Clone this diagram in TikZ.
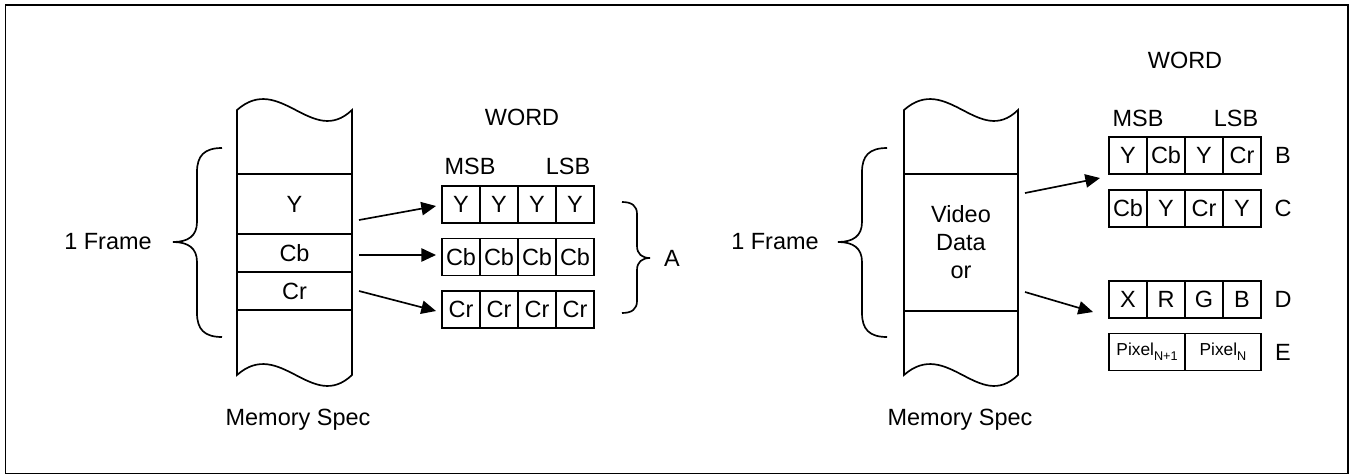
\documentclass[tikz,border=0pt]{standalone}
\usepackage{fontspec}
\setmainfont{Liberation Sans}
\usetikzlibrary{arrows.meta,positioning}

\begin{document}
\begin{tikzpicture}[
    x=0.75pt, y=-0.75pt,
    node distance=0pt,
    every node/.style={font=\fontsize{17.6}{21}\selectfont},
    line/.style={line width=1.25pt},
    cell/.style={draw, line width=1.25pt, inner sep=0pt, outer sep=0pt, minimum width=28.5pt, minimum height=27.75pt},
    wide/.style={cell, minimum width=57pt, font=\fontsize{13}{15}\selectfont},
    memcell/.style={draw, line width=1.25pt, inner sep=0pt, outer sep=0pt, minimum width=86.25pt, align=center},
    arr/.style={-{Triangle[length=11pt,width=10pt]}, line width=1.25pt},
    brace/.style={line width=1.25pt}
]
\useasboundingbox (0,0) rectangle (1351,475);
\draw[line width=1.4pt] (5.5,5) rectangle (1348,473.5);

% left memory column
\draw[line] (237,110) .. controls (280,72) and (312,148) .. (352,110) -- (352,375)
    .. controls (312,413) and (280,337) .. (237,375) -- cycle;
\node[memcell, minimum height=45pt] (memY) at (294.5,204) {Y};
\node[memcell, minimum height=28.5pt] (memCb) at (294.5,253) {Cb};
\node[memcell, minimum height=28.5pt] (memCr) at (294.5,291) {Cr};
\node (specL) at (298,420) {Memory Spec};

\draw[brace] (222,148) .. controls (204,148) and (197,156) .. (197,172) -- (197,222)
    .. controls (197,236) and (188,242) .. (173,242) .. controls (188,242) and (197,248) .. (197,262)
    -- (197,313) .. controls (197,329) and (204,337) .. (222,337);
\node (frameL) at (108,242) {1 Frame};

% left words
\node (wordL) at (522,117) {WORD};
\node (msbL) at (470,166) {MSB};
\node (lsbL) at (568,166) {LSB};
\node[cell] (y1) at (461,204.5) {Y};
\node[cell, right=of y1] (y2) {Y};
\node[cell, right=of y2] (y3) {Y};
\node[cell, right=of y3] (y4) {Y};
\node[cell] (cb1) at (461,257) {Cb};
\node[cell, right=of cb1] (cb2) {Cb};
\node[cell, right=of cb2] (cb3) {Cb};
\node[cell, right=of cb3] (cb4) {Cb};
\node[cell] (cr1) at (461,309.5) {Cr};
\node[cell, right=of cr1] (cr2) {Cr};
\node[cell, right=of cr2] (cr3) {Cr};
\node[cell, right=of cr3] (cr4) {Cr};

\draw[brace] (622,202) .. controls (632,202) and (637,206) .. (637,214) -- (637,246)
    .. controls (637,254) and (642,258) .. (650,258) .. controls (642,258) and (637,262) .. (637,270)
    -- (637,301) .. controls (637,309) and (632,313) .. (622,313);
\node (labA) at (672,258) {A};

\draw[arr] ([shift={(7,16)}]memY.east) -- ([shift={(-6,1.5)}]y1.west);
\draw[arr] ([shift={(7,2)}]memCb.east) -- ([shift={(-6,-2)}]cb1.west);
\draw[arr] ([shift={(7,0)}]memCr.east) -- ([shift={(-6,1.5)}]cr1.west);

% right memory column
\draw[line] (904,110) .. controls (947,72) and (979,148) .. (1018,110) -- (1018,375)
    .. controls (979,413) and (947,337) .. (904,375) -- cycle;
\node[memcell, minimum width=85.5pt, minimum height=102.75pt] (memV) at (961,242.5) {Video\\Data\\or};
\node (specR) at (960,420) {Memory Spec};

\draw[brace] (887,148) .. controls (869,148) and (862,156) .. (862,172) -- (862,222)
    .. controls (862,236) and (853,242) .. (838,242) .. controls (853,242) and (862,248) .. (862,262)
    -- (862,313) .. controls (862,329) and (869,337) .. (887,337);
\node (frameR) at (775,242) {1 Frame};

% right words
\node (wordR) at (1185,60) {WORD};
\node (msbR) at (1138,118) {MSB};
\node (lsbR) at (1236,118) {LSB};
\node[cell] (b1) at (1128,155.5) {Y};
\node[cell, right=of b1] (b2) {Cb};
\node[cell, right=of b2] (b3) {Y};
\node[cell, right=of b3] (b4) {Cr};
\node[cell] (c1) at (1128,208.5) {Cb};
\node[cell, right=of c1] (c2) {Y};
\node[cell, right=of c2] (c3) {Cr};
\node[cell, right=of c3] (c4) {Y};
\node[cell] (d1) at (1128,299.5) {X};
\node[cell, right=of d1] (d2) {R};
\node[cell, right=of d2] (d3) {G};
\node[cell, right=of d3] (d4) {B};
\node[wide] (e1) at (1147,352) {Pixel\raisebox{-4pt}{\fontsize{9.5}{10}\selectfont N+1}};
\node[wide, right=of e1] (e2) {Pixel\raisebox{-4pt}{\fontsize{9.5}{10}\selectfont N}};
\node (labB) at (1283,155.5) {B};
\node (labC) at (1283,208.5) {C};
\node (labD) at (1283,299.5) {D};
\node (labE) at (1283,352) {E};

\draw[arr] ([shift={(7,-49.5)}]memV.east) -- ([shift={(-9,22.5)}]b1.west);
\draw[arr] ([shift={(7,49.5)}]memV.east) -- ([shift={(-16,12.5)}]d1.west);
\end{tikzpicture}
\end{document}
